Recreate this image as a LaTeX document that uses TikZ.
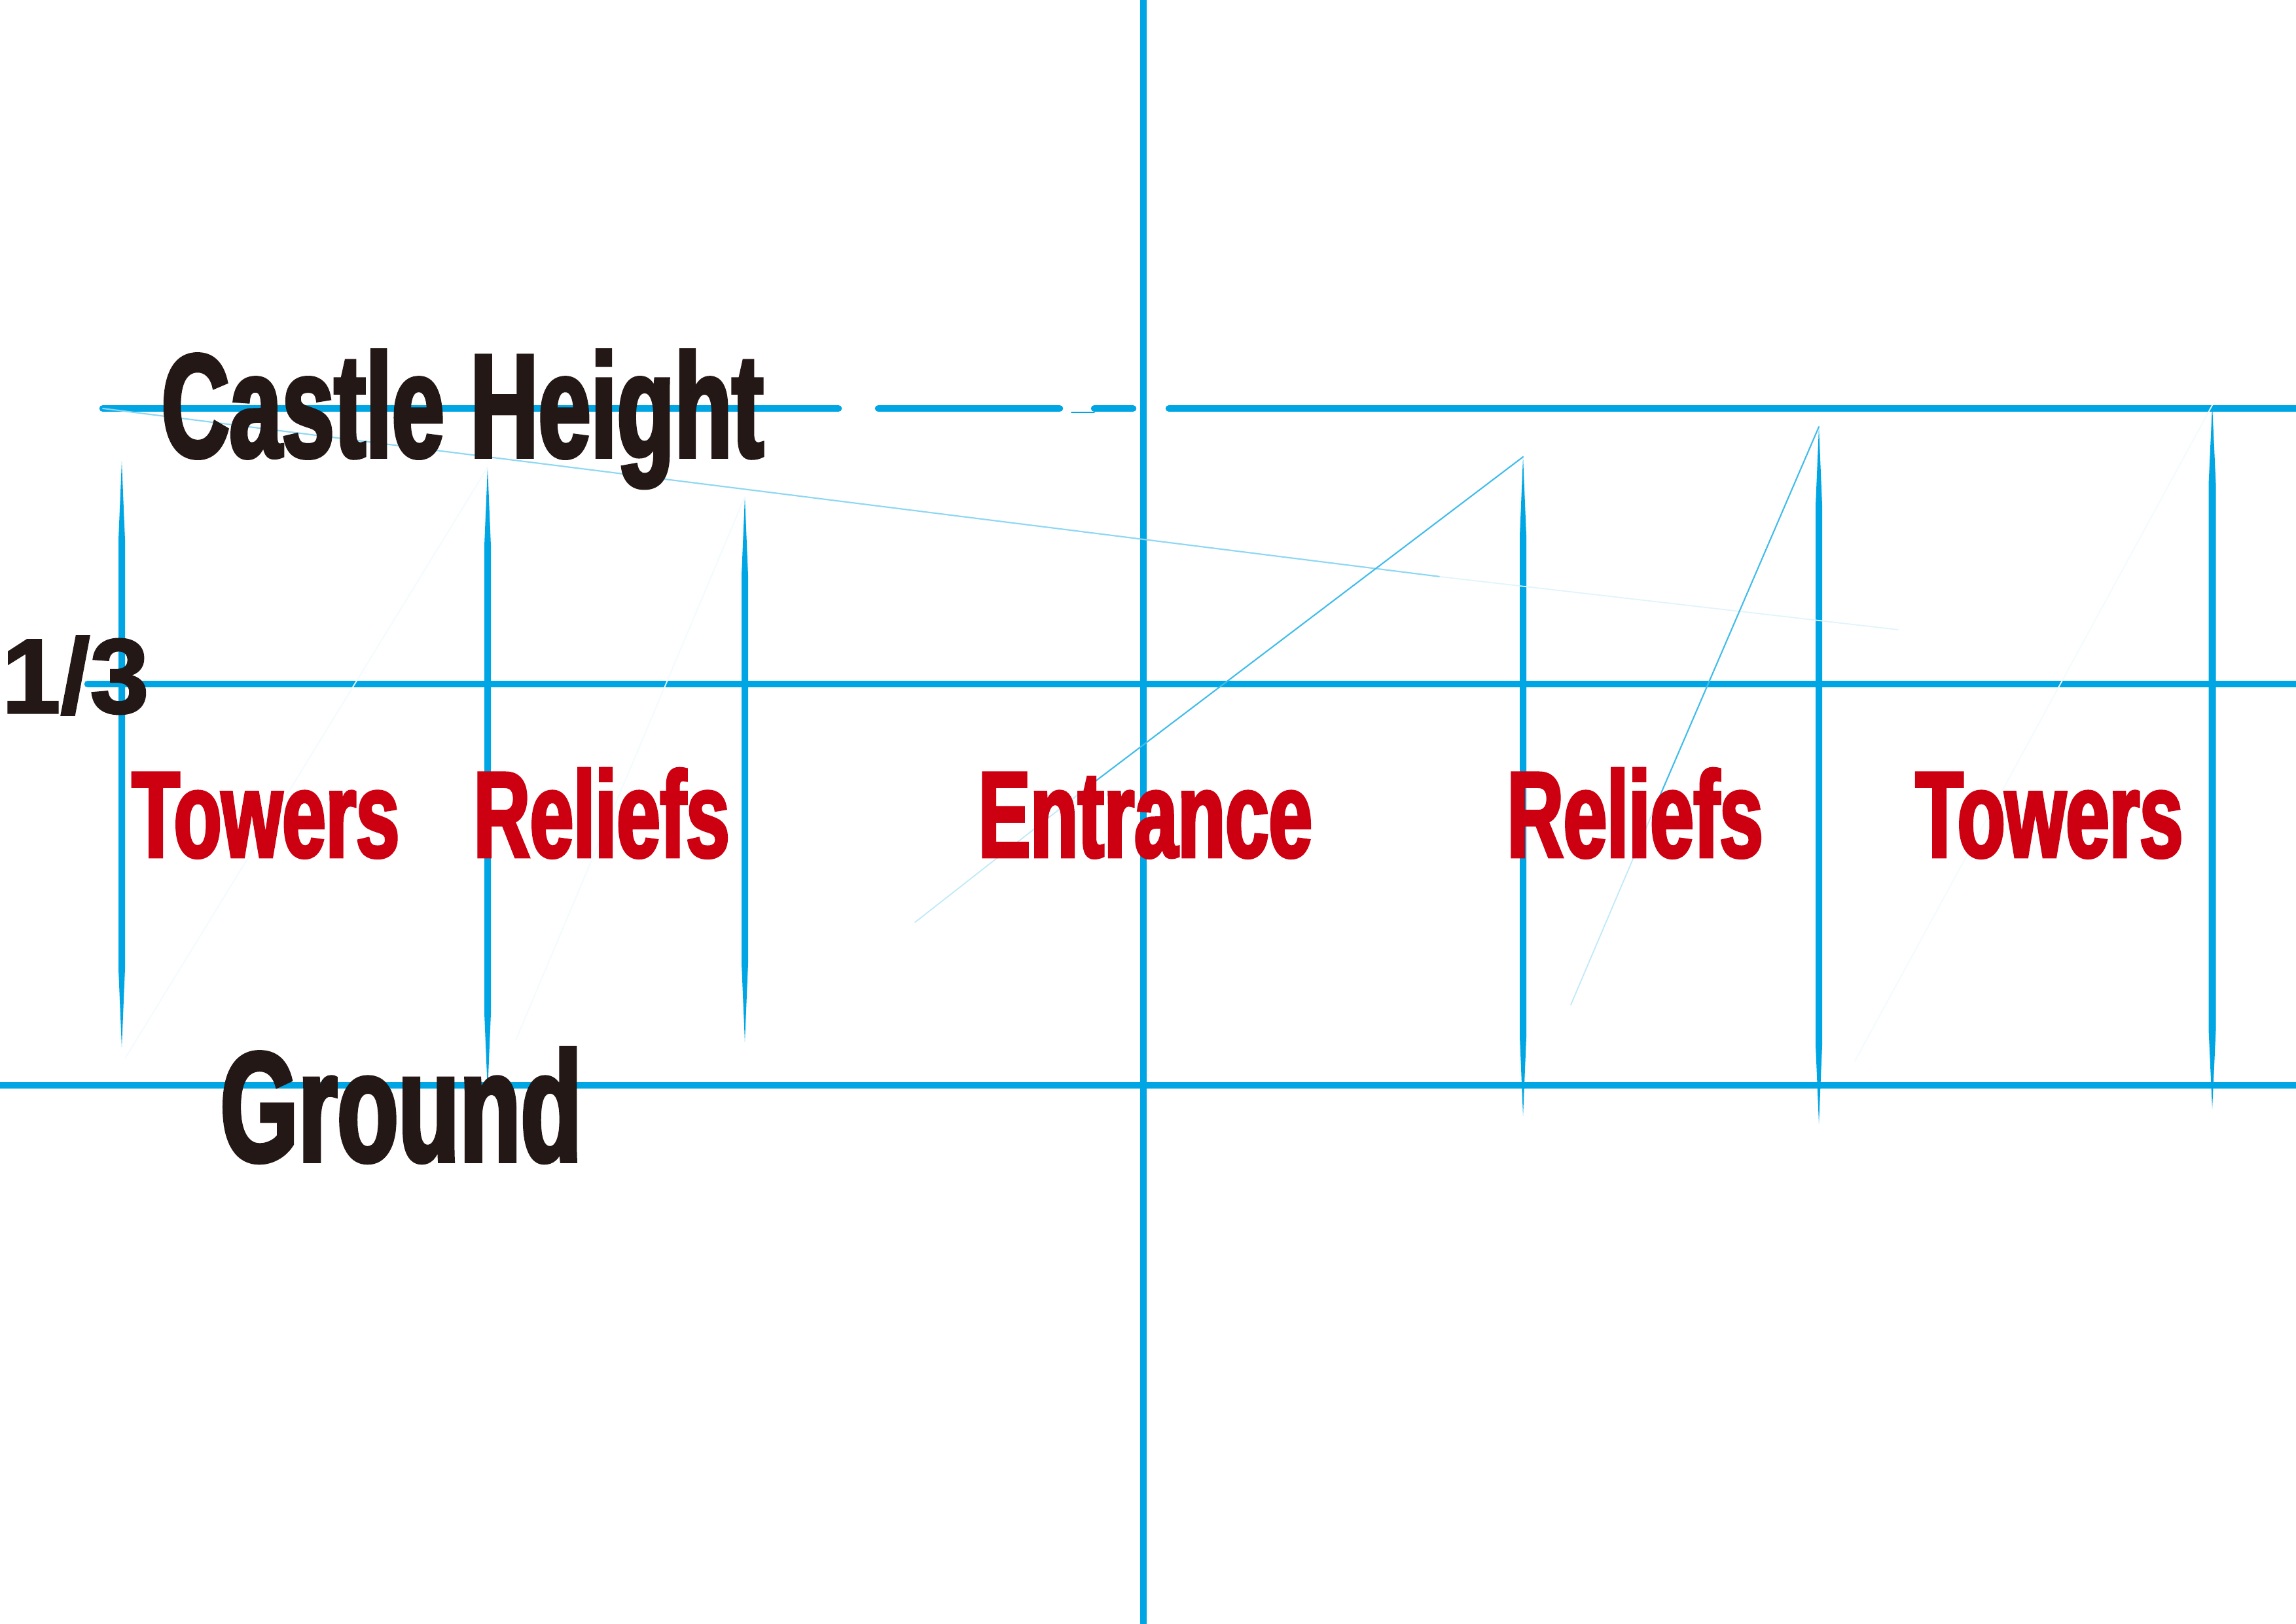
\documentclass[tikz,border=0pt]{standalone}
\usepackage{fontspec}
\usepackage{xcolor}
\usepackage{tikz}

\newfontfamily\heavyfont{Liberation Sans}[FakeStretch=0.64,FakeBold=2.5]
\newfontfamily\plainbold{Liberation Sans}[FakeBold=2]
\definecolor{lineblue}{RGB}{0,166,228}
\definecolor{inkblack}{RGB}{35,24,21}
\definecolor{labelred}{RGB}{204,0,17}

% tapered guide stroke: name, x, top, bottom, half width
\newcommand{\pillar}[5]{%
  \coordinate (#1) at (#2,#3);
  \fill[lineblue] (#2,#3) -- (#2+#5,#3-1.2) -- (#2+#5,#4+1.2) -- (#2,#4)
    -- (#2-#5,#4+1.2) -- (#2-#5,#3-1.2) -- cycle;}

\begin{document}
\begin{tikzpicture}[x=1cm,y=1cm,line cap=round,
    axis/.style={draw=lineblue, line width=3pt},
    sketch/.style={draw=lineblue!75, line width=0.6pt},
    fade/.style={draw=lineblue!25, line width=0.5pt},
    faint/.style={draw=lineblue!5, line width=0.5pt}]
            \tikzset{title/.style={text=inkblack, inner sep=0pt, anchor=base west, font=\heavyfont\bfseries\fontsize{64}{64}\selectfont},
                     part/.style={text=labelred, inner sep=0pt, anchor=base west, font=\heavyfont\bfseries\fontsize{53}{53}\selectfont}}
            \useasboundingbox[fill=white] (0,0) rectangle (35.08,24.80);
            % main guides
            \draw[axis] (1.57,18.56) -- (12.81,18.56);
            \draw[axis] (13.42,18.56) -- (16.19,18.56);
            \draw[axis] (16.72,18.56) -- (17.31,18.56);
            \draw[lineblue, line width=0.5pt] (16.37,18.50) -- (16.72,18.50);
            \draw[axis] (17.86,18.56) -- (35.08,18.56);
            \draw[axis] (1.34,14.35) -- (35.08,14.35);
            \draw[axis] (0,8.22) -- (35.08,8.22);
            \draw[axis] (17.47,0) -- (17.47,24.80);
            % verticals
            \pillar{pa}{1.86}{17.75}{8.80}{0.05}
            \pillar{pb}{7.45}{17.66}{8.12}{0.05}
            \pillar{pc}{11.38}{17.21}{8.88}{0.05}
            \pillar{pd}{23.27}{17.82}{7.75}{0.05}
            \pillar{pe}{27.79}{18.28}{7.63}{0.05}
            \pillar{pf}{33.80}{18.61}{7.86}{0.055}
            % perspective strokes
            \coordinate (corner) at (1.57,18.56);
            \draw[sketch, draw=lineblue!45] (corner) -- (22.00,15.99);
            \draw[fade, draw=lineblue!12] (22.00,15.99) -- (29.00,15.18);
            \draw[sketch] (pd) -- (16.65,12.80);
            \draw[fade] (16.65,12.80) -- (13.98,10.71);
            \draw[sketch] (pe) -- (25.30,12.50);
            \draw[fade] (25.30,12.50) -- (24.00,9.45);
            \draw[faint] (pf) -- (28.34,8.59);
            \draw[faint] (pb) -- (1.91,8.63);
            \draw[faint] (pc) -- (7.88,8.91);
            % labels
            \node[title] (height) at (2.46,17.82) {Castle Height};
            \node[text=inkblack, inner sep=0pt, anchor=base west, font=\plainbold\bfseries\fontsize{46}{46}\selectfont] (third) at (0.02,13.91) {1/3};
            \node[part] (towersL) at (2.01,11.71) {Towers};
            \node[part] (reliefsL) at (7.23,11.71) {Reliefs};
            \node[part] (entrance) at (14.94,11.71) {Entrance};
            \node[part] (reliefsR) at (23.02,11.71) {Reliefs};
            \node[part] (towersR) at (29.26,11.71) {Towers};
            \node[title, font=\heavyfont\bfseries\fontsize{68}{68}\selectfont] (ground) at (3.36,7.06) {Ground};
\end{tikzpicture}
\end{document}
